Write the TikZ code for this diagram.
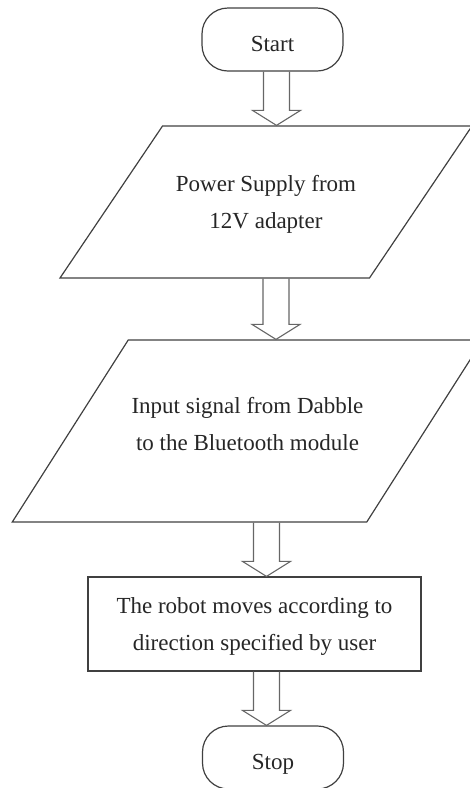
\documentclass[tikz,border=0pt]{standalone}
\usepackage{fontspec}
\setmainfont{Liberation Serif}
\usetikzlibrary{shapes.geometric,calc}

% hollow block arrow: from node, to node, x of the shaft
\newcommand{\hollowarrow}[3]{%
  \draw[arrowline] let \p1=(#1.south), \p2=(#2.north) in
    (#3pt-13pt,\y1) -- (#3pt-13pt,\y2+15pt) -- (#3pt-24pt,\y2+15pt)
    -- (#3pt,\y2) -- (#3pt+24pt,\y2+15pt) -- (#3pt+13pt,\y2+15pt)
    -- (#3pt+13pt,\y1);}

\begin{document}
\begin{tikzpicture}[x=1pt,y=-1pt]
        \tikzstyle{base}=[draw=black!75,line width=1.2pt,text=black!85,align=center,inner ysep=0pt,font=\fontsize{23}{37}\selectfont]
        \tikzstyle{terminal}=[base,rounded corners=26pt,minimum width=141pt,text height=43pt,text depth=20pt]
        \tikzstyle{inout}=[base,trapezium,trapezium stretches body]
        \tikzstyle{process}=[base,minimum width=333pt,text height=73pt,text depth=21pt]
        \tikzstyle{arrowline}=[draw=black!60,line width=1.1pt,line join=miter]
        \useasboundingbox (0,0) rectangle (470,788);
        \begin{scope}
                \node [terminal] (start) at (272.5,39.5) {Start};
                \node [inout,trapezium left angle=56,trapezium right angle=124,minimum width=412pt,text height=102pt,text depth=50pt] (power) at (266,202) {Power Supply from\\12V adapter};
                \node [inout,trapezium left angle=57.5,trapezium right angle=122.5,minimum width=467pt,text height=110pt,text depth=72pt] (input) at (247.5,431) {Input signal from Dabble\\to the Bluetooth module};
                \node [process] (move) at (254.5,624) {The robot moves according to\\direction specified by user};
                \node [terminal] (stop) at (273,757.5) {Stop};
                \hollowarrow{start}{power}{276.5}
                \hollowarrow{power}{input}{276}
                \hollowarrow{input}{move}{266.5}
                \hollowarrow{move}{stop}{266.5}
        \end{scope}
\end{tikzpicture}
\end{document}
